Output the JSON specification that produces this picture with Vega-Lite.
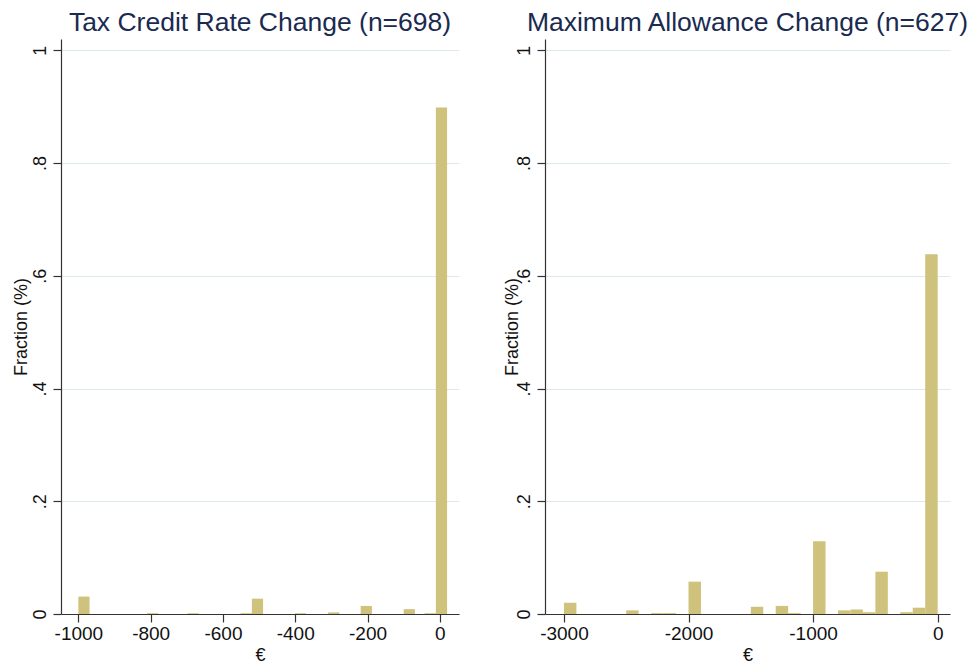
{
  "$schema": "https://vega.github.io/schema/vega-lite/v6.json",
  "background": "white",
  "padding": {"left": 12, "top": 9, "right": 0, "bottom": 0},
  "config": {
    "font": "Liberation Sans",
    "view": {"stroke": null},
    "concat": {"spacing": 44},
    "axis": {
      "domainColor": "#333333", "tickColor": "#333333", "labelColor": "#111111", "titleColor": "#111111",
      "labelFont": "Liberation Sans", "titleFont": "Liberation Sans",
      "labelFontSize": 18, "titleFontSize": 18, "titleFontWeight": "normal",
      "tickSize": 8, "domainWidth": 1.2, "tickWidth": 1.2
    },
    "title": {"fontSize": 26.5, "fontWeight": "normal", "color": "#1a2a50", "anchor": "middle", "offset": 3, "font": "Liberation Sans"}
  },
  "datasets": {
    "tax": [
      {"x0": -1000, "x1": -969, "frac": 0.0309},
      {"x0": -810, "x1": -779, "frac": 0.0014},
      {"x0": -698, "x1": -667, "frac": 0.0014},
      {"x0": -551, "x1": -520, "frac": 0.0014},
      {"x0": -520, "x1": -489, "frac": 0.0272},
      {"x0": -401, "x1": -370, "frac": 0.0014},
      {"x0": -309, "x1": -278, "frac": 0.0029},
      {"x0": -219, "x1": -188, "frac": 0.0143},
      {"x0": -100, "x1": -69, "frac": 0.0086},
      {"x0": -42, "x1": -11, "frac": 0.0014},
      {"x0": -11, "x1": 20, "frac": 0.8983}
    ],
    "allow": [
      {"x0": -3000, "x1": -2900, "frac": 0.0200},
      {"x0": -2500, "x1": -2400, "frac": 0.0064},
      {"x0": -2300, "x1": -2200, "frac": 0.0016},
      {"x0": -2200, "x1": -2100, "frac": 0.0016},
      {"x0": -2000, "x1": -1900, "frac": 0.0574},
      {"x0": -1500, "x1": -1400, "frac": 0.0128},
      {"x0": -1300, "x1": -1200, "frac": 0.0144},
      {"x0": -1200, "x1": -1100, "frac": 0.0016},
      {"x0": -1000, "x1": -900, "frac": 0.1292},
      {"x0": -800, "x1": -700, "frac": 0.0064},
      {"x0": -700, "x1": -600, "frac": 0.0080},
      {"x0": -600, "x1": -500, "frac": 0.0032},
      {"x0": -500, "x1": -400, "frac": 0.0750},
      {"x0": -300, "x1": -200, "frac": 0.0032},
      {"x0": -200, "x1": -100, "frac": 0.0112},
      {"x0": -100, "x1": 0, "frac": 0.6380}
    ]
  },
  "hconcat": [
    {
      "title": "Tax Credit Rate Change (n=698)",
      "width": 398,
      "height": 575,
      "data": {"name": "tax"},
      "mark": {"type": "rect", "color": "#cfc27c"},
      "encoding": {
        "x": {"field": "x0", "type": "quantitative",
          "scale": {"domain": [-1048, 53], "nice": false, "zero": false},
          "axis": {"values": [-1000, -800, -600, -400, -200, 0], "labelExpr": "'' + datum.value", "labelFontSize": 19, "title": "€", "grid": false, "labelFlush": false, "titlePadding": 3}},
        "x2": {"field": "x1"},
        "y": {"field": "frac", "type": "quantitative",
          "scale": {"domain": [0, 1.02], "nice": false},
          "axis": {"values": [0, 0.2, 0.4, 0.6, 0.8, 1],
            "labelExpr": "datum.value == 0 ? '0' : datum.value == 1 ? '1' : replace(format(datum.value, '.1f'), '0.', '.')",
            "labelAngle": 270, "labelAlign": "center", "labelBaseline": "bottom", "labelPadding": 4,
            "title": "Fraction (%)", "titlePadding": 1,
            "grid": true, "gridColor": "#dde9ea", "gridWidth": 1}},
        "y2": {"datum": 0}
      }
    },
    {
      "title": "Maximum Allowance Change (n=627)",
      "width": 405,
      "height": 575,
      "data": {"name": "allow"},
      "mark": {"type": "rect", "color": "#cfc27c"},
      "encoding": {
        "x": {"field": "x0", "type": "quantitative",
          "scale": {"domain": [-3152, 99], "nice": false, "zero": false},
          "axis": {"values": [-3000, -2000, -1000, 0], "labelExpr": "'' + datum.value", "labelFontSize": 19, "title": "€", "grid": false, "labelFlush": false, "titlePadding": 3}},
        "x2": {"field": "x1"},
        "y": {"field": "frac", "type": "quantitative",
          "scale": {"domain": [0, 1.02], "nice": false},
          "axis": {"values": [0, 0.2, 0.4, 0.6, 0.8, 1],
            "labelExpr": "datum.value == 0 ? '0' : datum.value == 1 ? '1' : replace(format(datum.value, '.1f'), '0.', '.')",
            "labelAngle": 270, "labelAlign": "center", "labelBaseline": "bottom", "labelPadding": 4,
            "title": "Fraction (%)", "titlePadding": -6,
            "grid": true, "gridColor": "#dde9ea", "gridWidth": 1}},
        "y2": {"datum": 0}
      }
    }
  ]
}
